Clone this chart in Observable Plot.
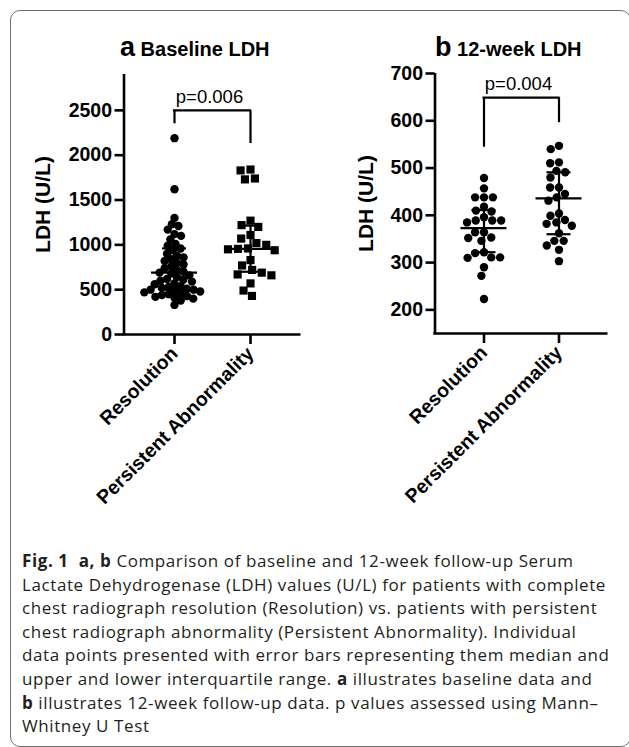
<!DOCTYPE html>
<html><head><meta charset="utf-8">
<script src="https://cdn.jsdelivr.net/npm/d3@7"></script>
<script src="https://cdn.jsdelivr.net/npm/@observablehq/plot@0.6"></script>
<style>
html,body{margin:0;padding:0;background:#fff;}
#page{position:relative;width:629px;height:747px;overflow:hidden;background:#fff;}
#border{position:absolute;left:10px;top:10px;width:621px;height:737px;border:1.5px solid #707070;border-radius:10px;box-sizing:border-box;}
.title{position:absolute;top:32px;font-family:"Liberation Sans",Arial,sans-serif;font-weight:bold;font-size:20px;line-height:30px;color:#000;white-space:nowrap;}
.title .lt{font-size:27px;}
.panel{position:absolute;top:60px;}
#caption{position:absolute;left:22px;top:549px;font-family:"Open Sans",sans-serif;font-size:17px;line-height:23.6px;color:#231f20;white-space:nowrap;}
#caption div{white-space:nowrap;}
</style></head>
<body><div id="page">
<div id="border"></div>
<div class="title" id="tA" style="left:120px"></div>
<div class="title" id="tB" style="left:435px"></div>
<div class="panel" id="pA" style="left:0px"></div>
<div class="panel" id="pB" style="left:314px"></div>
<div id="caption"></div>
</div>
<script>
// ---- data ----
const groups = ["Resolution", "Persistent Abnormality"];
const titleLetters = ["a", "b"];
const titleTexts = ["Baseline LDH", "12-week LDH"];
const yLabel = "LDH (U/L)";

// Panel a: baseline LDH (U/L)
const baselineResolution = [2190, 1620, 1300, 1230, 1210, 1170, 1120, 1100, 1060, 1010,
  990, 960, 940, 900, 880, 860, 840, 820, 800, 780, 760, 740, 720, 700, 690, 680, 660,
  640, 620, 610, 600, 590, 570, 560, 540, 530, 520, 510, 500, 500, 490, 480, 470, 460,
  450, 440, 430, 420, 410, 400, 380, 330];
const baselinePersistent = [1840, 1830, 1740, 1730, 1270, 1220, 1200, 1110, 1070, 1020,
  1000, 960, 955, 950, 940, 830, 770, 720, 690, 670, 660, 570, 490, 430];
const baselineMedian = [691, 955];
const baselineQ1 = [500, 700];
const baselineQ3 = [960, 1215];
const baselineTicks = [0, 500, 1000, 1500, 2000, 2500];
const baselineDomain = [0, 2900];
const baselineBracket = [2350, 2130, 2500, 2650]; // left end, right end, top, label
const baselineP = "p=0.006";

// Panel b: 12-week LDH (U/L)
const weekResolution = [479, 457, 438, 438, 438, 418, 410, 408, 396, 389, 389, 389, 385,
  364, 364, 353, 352, 346, 322, 320, 311, 311, 310, 290, 272, 223];
const weekPersistent = [547, 540, 512, 510, 494, 491, 480, 459, 459, 445, 438, 431, 404,
  399, 390, 385, 382, 378, 362, 346, 346, 336, 327, 303];
const weekMedian = [373, 436];
const weekQ1 = [322, 360];
const weekQ3 = [411, 491];
const weekTicks = [200, 300, 400, 500, 600, 700];
const weekDomain = [150, 700];
const weekBracket = [544, 596, 649, 677];
const weekP = "p=0.004";

const captionLines = [
  "<b>Fig. 1</b>&nbsp; <b>a, b</b> Comparison of baseline and 12-week follow-up Serum",
  "Lactate Dehydrogenase (LDH) values (U/L) for patients with complete",
  "chest radiograph resolution (Resolution) vs. patients with persistent",
  "chest radiograph abnormality (Persistent Abnormality). Individual",
  "data points presented with error bars representing them median and",
  "upper and lower interquartile range. <b>a</b> illustrates baseline data and",
  "<b>b</b> illustrates 12-week follow-up data. p values assessed using Mann–",
  "Whitney U Test"
];

// ---- drawing ----
function panel(o) {
  const rows = [
    ...o.res.map(v => ({g: groups[0], v})),
    ...o.pers.map(v => ({g: groups[1], v}))
  ];
  const stats = groups.map((g, i) => ({g, med: o.med[i], q1: o.q1[i], q3: o.q3[i]}));
  const br = [
    {g: groups[0], end: o.bracket[0], top: o.bracket[2]},
    {g: groups[1], end: o.bracket[1], top: o.bracket[2]}
  ];
  const frameW = o.width - o.marginLeft - o.marginRight;
  const step = frameW / (2 + 2 * o.po);
  const outer = o.po * step;
  const lw = 2.6, ew = 2.2;
  return Plot.plot({
    width: o.width, height: 490,
    marginTop: o.marginTop, marginBottom: o.marginBottom,
    marginLeft: o.marginLeft, marginRight: o.marginRight,
    style: {fontFamily: "'Liberation Sans', Arial, sans-serif", fontWeight: "bold", fontSize: "19.5px", color: "#000", background: "transparent", overflow: "visible"},
    fx: {domain: groups, paddingInner: 0, paddingOuter: o.po, align: 0.5, label: null, axis: null},
    y: {domain: o.domain, axis: null},
    marks: [
      Plot.axisY({ticks: o.ticks, tickFormat: d => String(d), tickSize: 9, tickPadding: 3, strokeWidth: lw, dx: -outer,
        label: null, fontSize: 19.5}),
      Plot.axisFx({anchor: "bottom", tickSize: 10, tickPadding: 6, tickRotate: -45, strokeWidth: lw, label: null, fontSize: 19.5}),
      // y axis title
      Plot.text([yLabel], {fx: () => groups[0], text: d => d, frameAnchor: "middle", dx: -(outer + step / 2) - o.labelOffset, rotate: -90, fontSize: 21, fontWeight: "bold"}),
      // y axis line and x axis line (drawn from the first facet across the frame)
      Plot.ruleX([groups[0]], {fx: d => d, x: null, dx: -(outer + step / 2), strokeWidth: lw}),
      Plot.ruleY([{g: groups[0], y: o.domain[0]}], {fx: "g", y: "y", strokeWidth: lw, insetLeft: -outer - 1.3, insetRight: -(outer + step)}),
      // points
      Plot.dot(rows.filter(d => d.g === groups[0]), Plot.dodgeX({anchor: "middle", padding: o.pad0}, {fx: "g", y: "v", r: 4.2, fill: "#000", stroke: null, symbol: "circle"})),
      Plot.dot(rows.filter(d => d.g === groups[1]), Plot.dodgeX({anchor: "middle", padding: o.pad1}, {fx: "g", y: "v", r: o.r1, fill: "#000", stroke: null, symbol: o.symbol1})),
      // median and interquartile range
      Plot.ruleX(stats, {fx: "g", x: null, y1: "q1", y2: "q3", strokeWidth: ew}),
      Plot.tickY(stats, {fx: "g", y: "med", insetLeft: (step - 46) / 2, insetRight: (step - 46) / 2, strokeWidth: ew}),
      Plot.tickY(stats, {fx: "g", y: "q1", insetLeft: (step - 24) / 2, insetRight: (step - 24) / 2, strokeWidth: ew}),
      Plot.tickY(stats, {fx: "g", y: "q3", insetLeft: (step - 24) / 2, insetRight: (step - 24) / 2, strokeWidth: ew}),
      // significance bracket
      Plot.ruleX(br, {fx: "g", x: null, y1: "end", y2: "top", strokeWidth: ew}),
      Plot.ruleY([br[0]], {fx: "g", y: "top", insetLeft: step / 2 - 1, strokeWidth: ew}),
      Plot.ruleY([br[1]], {fx: "g", y: "top", insetRight: step / 2 - 1, strokeWidth: ew}),
      Plot.text([{g: groups[0], y: o.bracket[3], t: o.p}], {fx: "g", y: "y", text: "t", frameAnchor: "right", textAnchor: "middle", dx: -3, fontWeight: "normal", fontSize: 18.5})
    ]
  });
}

document.getElementById("pA").append(panel({
  res: baselineResolution, pers: baselinePersistent, med: baselineMedian, q1: baselineQ1, q3: baselineQ3,
  ticks: baselineTicks, domain: baselineDomain, bracket: baselineBracket, p: baselineP,
  width: 314, marginLeft: 123, marginRight: 14, marginTop: 14, marginBottom: 216, po: 0.164,
  labelOffset: 81, symbol1: "square", r1: 4.6, pad0: -1.6, pad1: 0.8
}));
document.getElementById("pB").append(panel({
  res: weekResolution, pers: weekPersistent, med: weekMedian, q1: weekQ1, q3: weekQ3,
  ticks: weekTicks, domain: weekDomain, bracket: weekBracket, p: weekP,
  width: 315, marginLeft: 120, marginRight: 22, marginTop: 13, marginBottom: 217, po: 0.153,
  labelOffset: 69, symbol1: "circle", r1: 4.2, pad0: 0.5, pad1: 0.5
}));

for (const [id, i] of [["tA", 0], ["tB", 1]]) {
  document.getElementById(id).innerHTML = `<span class="lt">${titleLetters[i]}</span> ${titleTexts[i]}`;
}

const cap = document.getElementById("caption");
cap.innerHTML = captionLines.map(l => `<div>${l}</div>`).join("");
// fit caption letter-spacing to the reference line width
const ref = cap.children[1];
const span = document.createElement("span");
span.innerHTML = ref.innerHTML;
ref.innerHTML = ""; ref.append(span);
const w = span.getBoundingClientRect().width;
const n = span.textContent.length;
cap.style.letterSpacing = ((584 - w) / n).toFixed(3) + "px";
</script>
</body></html>
